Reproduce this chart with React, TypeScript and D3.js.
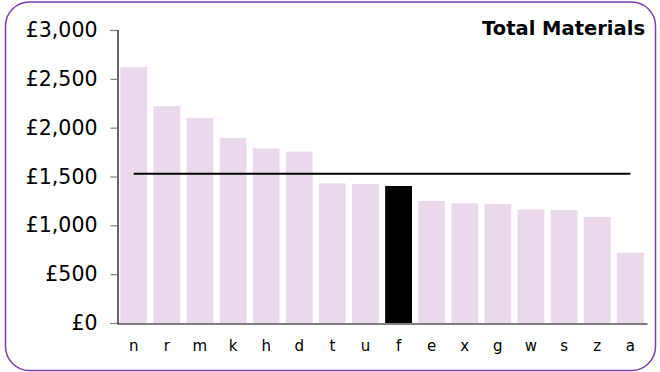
import React, { useEffect, useRef } from 'react';
import * as d3 from 'd3';

const categories = ['n', 'r', 'm', 'k', 'h', 'd', 't', 'u', 'f', 'e', 'x', 'g', 'w', 's', 'z', 'a'];
const values = [2620, 2220, 2100, 1895, 1788, 1754, 1430, 1423, 1403, 1249, 1225, 1218, 1164, 1157, 1085, 720];
const highlighted = ['f'];
const yTicks = [0, 500, 1000, 1500, 2000, 2500, 3000];
const title = 'Total Materials';

const width = 660;
const height = 372;
const margin = { top: 30, right: 12, bottom: 49, left: 117 };
const barColor = '#ead9eb';
const highlightColor = '#000000';
const borderColor = '#7a3fae';
const font = '"DejaVu Sans", Verdana, sans-serif';

const App: React.FC = () => {
    const ref = useRef<SVGSVGElement>(null);

    useEffect(() => {
        const svg = d3.select(ref.current);
        svg.selectAll('*').remove();

        const data = categories.map((c, i) => ({ name: c, value: values[i] }));
        const mean = d3.mean(values) ?? 0;

        const x = d3
            .scaleBand()
            .domain(categories)
            .range([margin.left, width - margin.right - 1])
            .paddingInner(0.19)
            .paddingOuter(0.1);

        const y = d3
            .scaleLinear()
            .domain([0, 3000])
            .range([height - margin.bottom, margin.top]);

        // outer rounded frame
        svg.append('rect')
            .attr('x', 5.5)
            .attr('y', 2)
            .attr('width', width - 10)
            .attr('height', height - 3.5)
            .attr('rx', 24)
            .attr('ry', 24)
            .attr('fill', '#ffffff')
            .attr('stroke', borderColor)
            .attr('stroke-width', 1.5);

        // bars
        svg.selectAll('rect.bar')
            .data(data)
            .enter()
            .append('rect')
            .attr('class', 'bar')
            .attr('x', (d) => x(d.name) ?? 0)
            .attr('y', (d) => y(d.value))
            .attr('width', x.bandwidth())
            .attr('height', (d) => y(0) - y(d.value))
            .attr('fill', (d) => (highlighted.includes(d.name) ? highlightColor : barColor));

        // y axis
        const yAxis = svg.append('g')
            .attr('transform', `translate(${margin.left + 0.5},0)`)
            .call(d3.axisLeft(y).tickValues(yTicks).tickSize(7).tickPadding(13)
                .tickFormat((d) => '£' + d3.format(',')(d as number)));
        yAxis.select('.domain').attr('stroke', '#000').attr('stroke-width', 1.2);
        yAxis.selectAll('.tick line').attr('stroke', '#7f7f7f').attr('stroke-width', 1.2);
        yAxis.selectAll('.tick text')
            .attr('fill', '#000')
            .style('font-family', font)
            .style('font-size', '20.5px');

        // x axis
        const xAxis = svg.append('g')
            .attr('transform', `translate(0,${y(0) + 0.5})`)
            .call(d3.axisBottom(x).tickSize(0).tickPadding(17));
        xAxis.select('.domain').attr('stroke', '#000').attr('stroke-width', 1.2);
        xAxis.selectAll('.tick text')
            .attr('fill', '#000')
            .style('font-family', font)
            .style('font-size', '15px');

        // average line
        const first = categories[0];
        const last = categories[categories.length - 1];
        svg.append('line')
            .attr('x1', (x(first) ?? 0) + x.bandwidth() / 2)
            .attr('x2', (x(last) ?? 0) + x.bandwidth() / 2)
            .attr('y1', y(mean))
            .attr('y2', y(mean))
            .attr('stroke', '#000')
            .attr('stroke-width', 2.2);

        // title
        svg.append('text')
            .attr('x', 645)
            .attr('y', 35)
            .attr('text-anchor', 'end')
            .style('font-family', font)
            .style('font-size', '19.5px')
            .style('font-weight', 'bold')
            .text(title);
    }, []);

    return (
        <svg
            ref={ref}
            width={width}
            height={height}
            style={{ position: 'absolute', left: 0, top: 0, display: 'block' }}
        ></svg>
    );
};

export default App;
